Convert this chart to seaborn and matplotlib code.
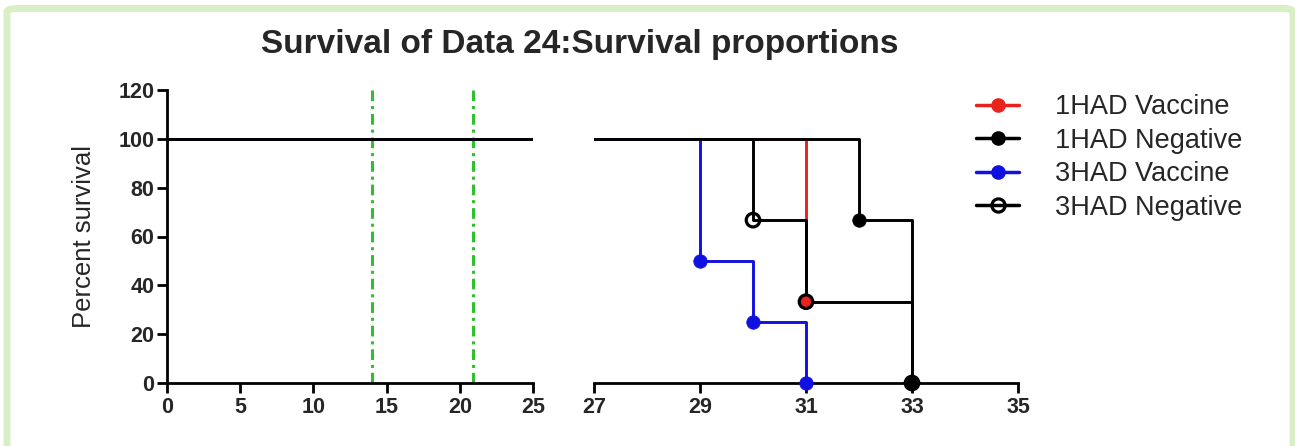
import matplotlib
matplotlib.use("Agg")
import matplotlib.pyplot as plt
from matplotlib.lines import Line2D
from matplotlib.patches import FancyBboxPatch
import seaborn as sns
import pandas as pd

sns.set_theme(style="white")
plt.rcParams["font.family"] = ["Liberation Sans", "DejaVu Sans"]

# Kaplan-Meier step data (day, percent surviving)
groups = ["1HAD Vaccine", "1HAD Negative", "3HAD Vaccine", "3HAD Negative"]
days_1had_vac = [0, 31]
surv_1had_vac = [100, 33.3]
days_1had_neg = [0, 32, 33]
surv_1had_neg = [100, 66.7, 0]
days_3had_vac = [0, 29, 30, 31]
surv_3had_vac = [100, 50, 25, 0]
days_3had_neg = [0, 30, 31, 33]
surv_3had_neg = [100, 66.7, 33.3, 0]

colors = ["#e8231e", "#000000", "#1010e0", "#000000"]
open_marker = [False, False, False, True]

# vaccination days
vacc_days = [14, 20.9]

left_ticks = [0, 5, 10, 15, 20, 25]
right_ticks = [27, 29, 31, 33, 35]
y_ticks = [0, 20, 40, 60, 80, 100, 120]

series = [
    (days_1had_vac, surv_1had_vac),
    (days_1had_neg, surv_1had_neg),
    (days_3had_vac, surv_3had_vac),
    (days_3had_neg, surv_3had_neg),
]

W, H = 1295, 446
fig = plt.figure(figsize=(W / 100, H / 100), dpi=100)

ax_l = fig.add_axes([167 / W, 1 - 383 / H, (533 - 167) / W, (383 - 90) / H])
ax_r = fig.add_axes([594 / W, 1 - 383 / H, (1018 - 594) / W, (383 - 90) / H])

LW = 2.1
MS = 95
for ax in (ax_l, ax_r):
    ax.set_facecolor("none")
    for (d, s), name, col, op in zip(series, groups, colors, open_marker):
        df = pd.DataFrame({"day": d, "survival": s})
        sns.lineplot(data=df, x="day", y="survival", ax=ax, color=col,
                     drawstyle="steps-post", estimator=None, sort=False,
                     linewidth=LW, legend=False)
        if ax is not ax_r:
            continue
        # event markers (all deaths fall in the later time window)
        ev = df.iloc[1:]
        if op:
            sns.scatterplot(data=ev, x="day", y="survival", ax=ax, s=MS,
                            facecolor="none", edgecolor=col, linewidth=2.3,
                            legend=False, zorder=5, clip_on=False)
        else:
            sns.scatterplot(data=ev, x="day", y="survival", ax=ax, s=MS,
                            color=col, edgecolor=col, linewidth=0.5,
                            legend=False, zorder=5, clip_on=False)
    ax.set_ylim(0, 120)
    ax.set_xlabel("")
    ax.set_ylabel("")

for vd in vacc_days:
    ax_l.axvline(vd, color="#2fbf2f", linewidth=2.2,
                 linestyle=(0, (3.5, 1.6, 1.0, 1.6)), zorder=1)

ax_l.set_xlim(0, 25)
ax_r.set_xlim(27, 35)
ax_l.set_xticks(left_ticks)
ax_r.set_xticks(right_ticks)
ax_l.set_yticks(y_ticks)
ax_r.set_yticks([])

for ax in (ax_l, ax_r):
    for sp in ax.spines.values():
        sp.set_visible(False)
    ax.spines["bottom"].set_visible(True)
    ax.spines["bottom"].set_linewidth(2.0)
    ax.spines["bottom"].set_color("black")
    ax.tick_params(axis="x", direction="out", length=7, width=2.0,
                   color="black", labelsize=15.5, pad=3, bottom=True)
    for lab in ax.get_xticklabels():
        lab.set_fontweight("bold")
ax_l.spines["left"].set_visible(True)
ax_l.spines["left"].set_linewidth(2.0)
ax_l.spines["left"].set_color("black")
ax_l.tick_params(axis="y", direction="out", length=7, width=2.0,
                 color="black", labelsize=15.5, pad=2, left=True)
for lab in ax_l.get_yticklabels():
    lab.set_fontweight("bold")

ax_l.set_ylabel("Percent survival", fontsize=18.5, labelpad=16)

fig.text(580 / W, 1 - 45 / H, "Survival of Data 24:Survival proportions",
         ha="center", va="center", fontsize=24, fontweight="bold")

handles = []
for name, col, op in zip(groups, colors, open_marker):
    handles.append(Line2D([0], [0], color=col, linewidth=LW + 0.4, marker="o",
                          markersize=9.5,
                          markerfacecolor="none" if op else col,
                          markeredgecolor=col,
                          markeredgewidth=2.3 if op else 1.0))
fig.legend(handles=handles, labels=groups, loc="upper left",
           bbox_to_anchor=(976 / W, 1 - 94 / H), frameon=False,
           fontsize=19.5, handlelength=1.6, handletextpad=1.3,
           labelspacing=0.28, borderaxespad=0, borderpad=0)

# light green frame around the figure
frame = FancyBboxPatch((7 / W, -0.05), (1293 - 7) / W, 1 - 8.5 / H + 0.05,
                       boxstyle="round,pad=0,rounding_size=0.008",
                       transform=fig.transFigure, facecolor="none",
                       edgecolor="#d9efc6", linewidth=5, zorder=-1)
fig.patches.append(frame)

fig.savefig("out.png", dpi=100)
